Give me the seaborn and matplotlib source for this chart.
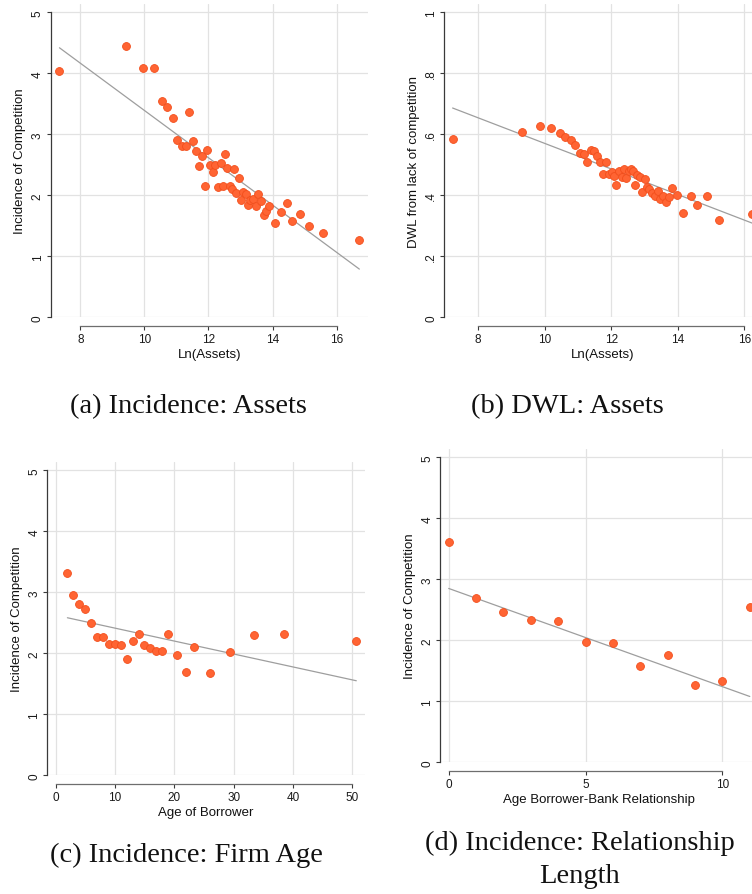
import numpy as np
import pandas as pd
import matplotlib
matplotlib.use("Agg")
import matplotlib.pyplot as plt
import seaborn as sns

# ---- binned scatter data -------------------------------------------------
# (a) incidence of competition vs ln(assets)
assets_a = [7.35, 9.44, 9.97, 10.30, 10.55, 10.72, 10.88, 11.40, 11.03, 11.17,
            11.30, 11.53, 11.62, 11.79, 11.71, 11.96, 11.89, 12.04, 12.13, 12.21,
            12.38, 12.51, 12.59, 12.80, 12.94, 12.30, 12.44, 12.67, 12.73, 12.87,
            13.01, 13.09, 13.16, 13.23, 13.31, 13.40, 13.48, 13.55, 13.65, 13.73,
            13.79, 13.88, 14.07, 14.25, 14.44, 14.61, 14.86, 15.15, 15.58, 16.71]
incidence_a = [4.03, 4.44, 4.08, 4.08, 3.54, 3.45, 3.26, 3.37, 2.90, 2.81,
               2.81, 2.89, 2.72, 2.65, 2.48, 2.74, 2.15, 2.50, 2.39, 2.50,
               2.53, 2.67, 2.44, 2.43, 2.28, 2.13, 2.15, 2.15, 2.11, 2.04,
               1.92, 2.06, 2.02, 1.84, 1.92, 1.94, 1.83, 2.02, 1.90, 1.68,
               1.74, 1.83, 1.54, 1.72, 1.87, 1.58, 1.70, 1.50, 1.39, 1.27]
fit_a = (7.267, -0.3876)   # intercept, slope

# (b) deadweight loss vs ln(assets)
assets_b = [7.23, 9.32, 9.85, 10.19, 10.45, 10.62, 10.78, 10.92, 11.06, 11.17,
            11.38, 11.49, 11.27, 11.58, 11.67, 11.83, 11.75, 11.94, 12.01, 12.07,
            12.15, 12.23, 12.31, 12.38, 12.45, 12.52, 12.58, 12.66, 12.72, 12.78,
            12.86, 12.93, 13.01, 13.06, 13.13, 13.21, 13.30, 13.40, 13.46, 13.56,
            13.65, 13.74, 13.81, 13.97, 14.16, 14.39, 14.59, 14.87, 15.25, 16.24]
dwl_b = [0.585, 0.607, 0.626, 0.622, 0.604, 0.590, 0.580, 0.564, 0.540, 0.534,
         0.547, 0.545, 0.508, 0.528, 0.508, 0.508, 0.471, 0.471, 0.475, 0.462,
         0.435, 0.480, 0.460, 0.487, 0.457, 0.479, 0.487, 0.479, 0.435, 0.467,
         0.460, 0.412, 0.453, 0.426, 0.419, 0.407, 0.397, 0.414, 0.388, 0.399,
         0.378, 0.394, 0.423, 0.400, 0.341, 0.396, 0.367, 0.396, 0.320, 0.339]
fit_b = (0.989, -0.0419)

# (c) incidence vs age of borrower
age_c = [1.97, 2.98, 3.99, 5.00, 5.96, 6.97, 7.98, 8.99, 10.00, 11.00,
         11.97, 12.98, 13.99, 14.94, 15.96, 16.97, 17.98, 18.99, 20.45, 21.97,
         23.37, 26.01, 29.44, 33.43, 38.48, 50.67]
incidence_c = [3.31, 2.96, 2.80, 2.73, 2.50, 2.27, 2.27, 2.16, 2.15, 2.14,
               1.91, 2.20, 2.31, 2.14, 2.08, 2.03, 2.03, 2.31, 1.97, 1.69,
               2.10, 1.68, 2.02, 2.30, 2.31, 2.20]
fit_c = (2.624, -0.0212)

# (d) incidence vs length of the borrower-bank relationship
rel_d = [0, 1, 2, 3, 4, 5, 6, 7, 8, 9, 10, 11]
incidence_d = [3.61, 2.70, 2.47, 2.33, 2.31, 1.98, 1.95, 1.58, 1.76, 1.26, 1.34, 2.54]
fit_d = (2.85, -0.161)

# ---- styling -------------------------------------------------------------
sns.set_theme(style="white")
plt.rcParams["font.family"] = ["Liberation Sans", "DejaVu Sans"]

DOT_FACE = "#FF6433"
DOT_EDGE = "#F24E1C"
FIT_COLOR = "#9E9E9E"
GRID_COLOR = "#E2E2E2"

W, H = 752, 895
fig = plt.figure(figsize=(W / 100, H / 100), dpi=100)


def px_axes(left, top, right, bottom):
    """Axes placed by pixel edges of the plot region."""
    return fig.add_axes([left / W, 1 - bottom / H, (right - left) / W, (bottom - top) / H])


def panel(ax, x, y, fit, xlim, ylim, xticks, yticks, ytick_labels, xbounds, ybounds,
          xlabel, ylabel):
    df = pd.DataFrame({"x": x, "y": y})
    x0, x1 = min(x), max(x)
    line = pd.DataFrame({"x": [x0, x1], "y": [fit[0] + fit[1] * x0, fit[0] + fit[1] * x1]})
    sns.lineplot(data=line, x="x", y="y", ax=ax, color=FIT_COLOR, linewidth=0.9, zorder=2)
    sns.scatterplot(data=df, x="x", y="y", ax=ax, s=32, color=DOT_FACE,
                    edgecolor=DOT_EDGE, linewidth=0.6, zorder=3)
    ax.set_xlim(*xlim)
    ax.set_ylim(*ylim)
    ax.set_xticks(xticks)
    ax.set_yticks(yticks)
    ax.set_yticklabels(ytick_labels, rotation=90, va="center")
    ax.grid(True, color=GRID_COLOR, linewidth=0.9)
    ax.set_axisbelow(True)
    for s in ("top", "right"):
        ax.spines[s].set_visible(False)
    ax.spines["left"].set_bounds(*ybounds)
    ax.spines["left"].set_color("#3a3a3a")
    ax.spines["left"].set_linewidth(0.9)
    ax.spines["bottom"].set_bounds(*xbounds)
    ax.spines["bottom"].set_position(("outward", 6.5))
    ax.spines["bottom"].set_color("#6e6e6e")
    ax.spines["bottom"].set_linewidth(0.9)
    ax.tick_params(axis="both", direction="out", length=3, width=0.8,
                   color="#3a3a3a", labelsize=8.5, labelcolor="#1a1a1a", pad=2,
                   left=True, bottom=True)
    ax.set_xlabel(xlabel, fontsize=9.5, color="#111111", labelpad=2)
    ax.set_ylabel(ylabel, fontsize=9.5, color="#111111", labelpad=4)


# (a)
ax_a = px_axes(50.7, 5, 368, 318.3)
panel(ax_a, assets_a, incidence_a, fit_a, (7.076, 16.98), (0, 5.136),
      [8, 10, 12, 14, 16], [0, 1, 2, 3, 4, 5], ["0", "1", "2", "3", "4", "5"],
      (8, 16), (0, 5), "Ln(Assets)", "Incidence of Competition")

# (b)
ax_b = px_axes(444.3, 5, 761, 318.3)
panel(ax_b, assets_b, dwl_b, fit_b, (6.98, 16.50), (0, 1.027),
      [8, 10, 12, 14, 16], [0, 0.2, 0.4, 0.6, 0.8, 1.0], ["0", ".2", ".4", ".6", ".8", "1"],
      (8, 16), (0, 1), "Ln(Assets)", "DWL from lack of competition")

# (c)
ax_c = px_axes(47.3, 462.7, 365, 776.3)
panel(ax_c, age_c, incidence_c, fit_c, (-1.42, 52.14), (0, 5.14),
      [0, 10, 20, 30, 40, 50], [0, 1, 2, 3, 4, 5], ["0", "1", "2", "3", "4", "5"],
      (0, 50), (0, 5), "Age of Borrower", "Incidence of Competition")

# (d)
ax_d = px_axes(440.3, 450, 758, 763.3)
panel(ax_d, rel_d, incidence_d, fit_d, (-0.307, 11.3), (0, 5.136),
      [0, 5, 10], [0, 1, 2, 3, 4, 5], ["0", "1", "2", "3", "4", "5"],
      (0, 10), (0, 5), "Age Borrower-Bank Relationship", "Incidence of Competition")

# ---- sub-figure captions -------------------------------------------------
cap = dict(family=["Liberation Serif", "DejaVu Serif"], fontsize=20.5, color="#111111",
           ha="center", va="center")
fig.text(188 / W, 1 - 407 / H, "(a) Incidence: Assets", **cap)
fig.text(567 / W, 1 - 407 / H, "(b) DWL: Assets", **cap)
fig.text(186 / W, 1 - 855 / H, "(c) Incidence: Firm Age", **cap)
fig.text(580 / W, 1 - 843 / H, "(d) Incidence: Relationship", **cap)
fig.text(580 / W, 1 - 877 / H, "Length", **cap)

fig.savefig("out.png", dpi=100)
